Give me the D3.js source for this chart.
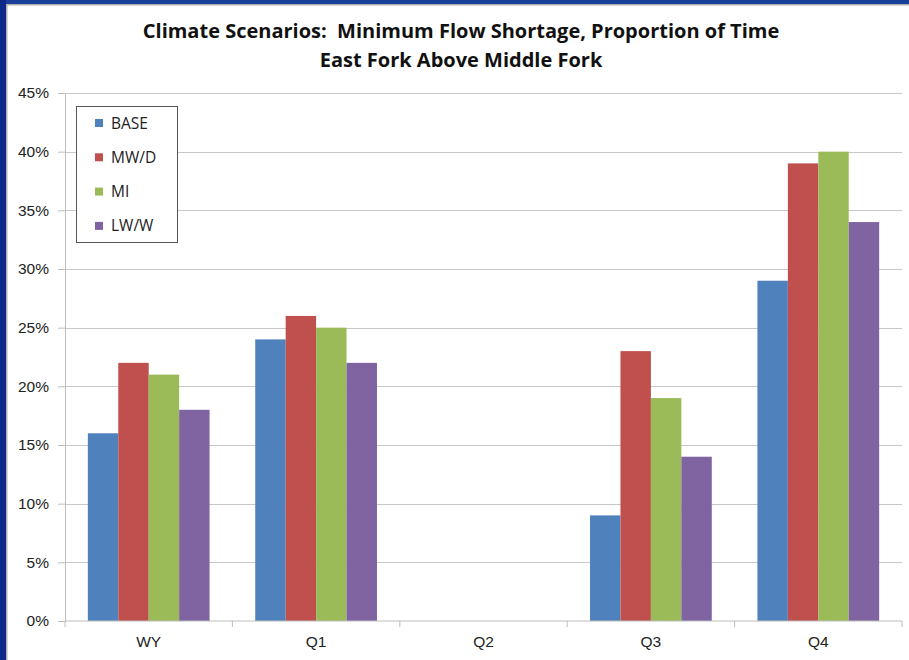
<!doctype html>
<html lang="en">
<head>
<meta charset="utf-8">
<title>Climate Scenarios</title>
<script src="https://d3js.org/d3.v7.min.js"></script>
<style>
  body { margin: 0; background: #fff; }
  svg { display: block; font-family: "Open Sans", "Liberation Sans", sans-serif; }
  .tick text { fill: #222; font-size: 15.5px; }
</style>
</head>
<body>
<svg id="chart" width="909" height="660"></svg>
<script>
  // chart data
  var categories = ["WY", "Q1", "Q2", "Q3", "Q4"];
  var seriesNames = ["BASE", "MW/D", "MI", "LW/W"];
  var colors = ["#4F81BD", "#C0504D", "#9BBB59", "#8064A2"];
  var base = [0.16, 0.24, 0, 0.09, 0.29];
  var mwd  = [0.22, 0.26, 0, 0.23, 0.39];
  var mi   = [0.21, 0.25, 0, 0.19, 0.40];
  var lww  = [0.18, 0.22, 0, 0.14, 0.34];
  var yTicks = [0, 0.05, 0.10, 0.15, 0.20, 0.25, 0.30, 0.35, 0.40, 0.45];

  var series = [base, mwd, mi, lww];

  var svg = d3.select("#chart");

  // slide frame
  svg.append("rect").attr("x", 0).attr("y", 0).attr("width", 909).attr("height", 4).attr("fill", "#1a3f9a");
  svg.append("rect").attr("x", 0).attr("y", 0).attr("width", 6).attr("height", 660).attr("fill", "#0d2a8a");
  svg.append("rect").attr("x", 6).attr("y", 4).attr("width", 903).attr("height", 1.5).attr("fill", "#b0b0b0");
  svg.append("rect").attr("x", 6).attr("y", 4).attr("width", 1.5).attr("height", 656).attr("fill", "#b0b0b0");

  var plotLeft = 65, plotRight = 902, plotTop = 93, plotBottom = 621;

  var x = d3.scaleBand().domain(categories).range([plotLeft, plotRight]).paddingInner(0).paddingOuter(0);
  var bw = x.bandwidth() / 5.5;
  var x1 = d3.scaleBand().domain(d3.range(series.length)).range([bw * 0.75, bw * 4.75]);
  var y = d3.scaleLinear().domain([0, 0.45]).range([plotBottom, plotTop]);

  // gridlines
  svg.append("g")
    .selectAll("line")
    .data(yTicks.slice(1))
    .enter().append("line")
    .attr("x1", plotLeft).attr("x2", plotRight)
    .attr("y1", function(d) { return Math.round(y(d)) + 0.5; })
    .attr("y2", function(d) { return Math.round(y(d)) + 0.5; })
    .attr("stroke", "#c8c8c8").attr("stroke-width", 1);

  // bars
  var groups = svg.append("g")
    .selectAll("g")
    .data(series)
    .enter().append("g")
    .attr("fill", function(d, i) { return colors[i]; });

  groups.each(function(vals, si) {
    d3.select(this).selectAll("rect")
      .data(vals)
      .enter().append("rect")
      .attr("x", function(d, ci) { return x(categories[ci]) + x1(si); })
      .attr("y", function(d) { return y(d); })
      .attr("width", x1.bandwidth())
      .attr("height", function(d) { return plotBottom - y(d); });
  });

  // y axis
  var yAxis = svg.append("g")
    .attr("transform", "translate(" + plotLeft + ",0)")
    .call(d3.axisLeft(y).tickValues(yTicks).tickFormat(d3.format(".0%")).tickSize(7).tickPadding(9));
  yAxis.select(".domain").attr("stroke", "#bdbdbd");
  yAxis.selectAll(".tick line").attr("stroke", "#bdbdbd");

  // x axis
  var xAxis = svg.append("g")
    .attr("transform", "translate(0," + plotBottom + ")")
    .call(d3.axisBottom(x).tickSize(0).tickPadding(15));
  xAxis.select(".domain").remove();
  xAxis.append("line").attr("x1", plotLeft).attr("x2", plotRight).attr("stroke", "#bdbdbd");
  xAxis.selectAll(".sep")
    .data(categories.concat(["end"]))
    .enter().append("line")
    .attr("class", "sep")
    .attr("x1", function(d, i) { return i < categories.length ? x(d) : plotRight; })
    .attr("x2", function(d, i) { return i < categories.length ? x(d) : plotRight; })
    .attr("y1", 0).attr("y2", 6)
    .attr("stroke", "#bdbdbd");

  // title
  var title = svg.append("text")
    .attr("text-anchor", "middle")
    .attr("font-weight", "bold")
    .attr("font-size", 20)
    .attr("fill", "#111")
    .style("white-space", "pre");
  title.append("tspan").attr("x", 461).attr("y", 38).text("Climate Scenarios:  Minimum Flow Shortage, Proportion of Time");
  title.append("tspan").attr("x", 461).attr("y", 67).text("East Fork Above Middle Fork");

  // legend
  var legend = svg.append("g");
  legend.append("rect")
    .attr("x", 76.5).attr("y", 106.5).attr("width", 101).attr("height", 136)
    .attr("fill", "#fff").attr("stroke", "#555");
  var items = legend.selectAll(".item")
    .data(seriesNames)
    .enter().append("g")
    .attr("transform", function(d, i) { return "translate(95," + (123 + i * 34.3) + ")"; });
  items.append("rect")
    .attr("x", 0).attr("y", -4).attr("width", 8).attr("height", 8)
    .attr("fill", function(d, i) { return colors[i]; });
  items.append("text")
    .attr("x", 16).attr("y", 5.5)
    .attr("font-size", 15.5)
    .attr("fill", "#222")
    .text(function(d) { return d; });
</script>
</body>
</html>
